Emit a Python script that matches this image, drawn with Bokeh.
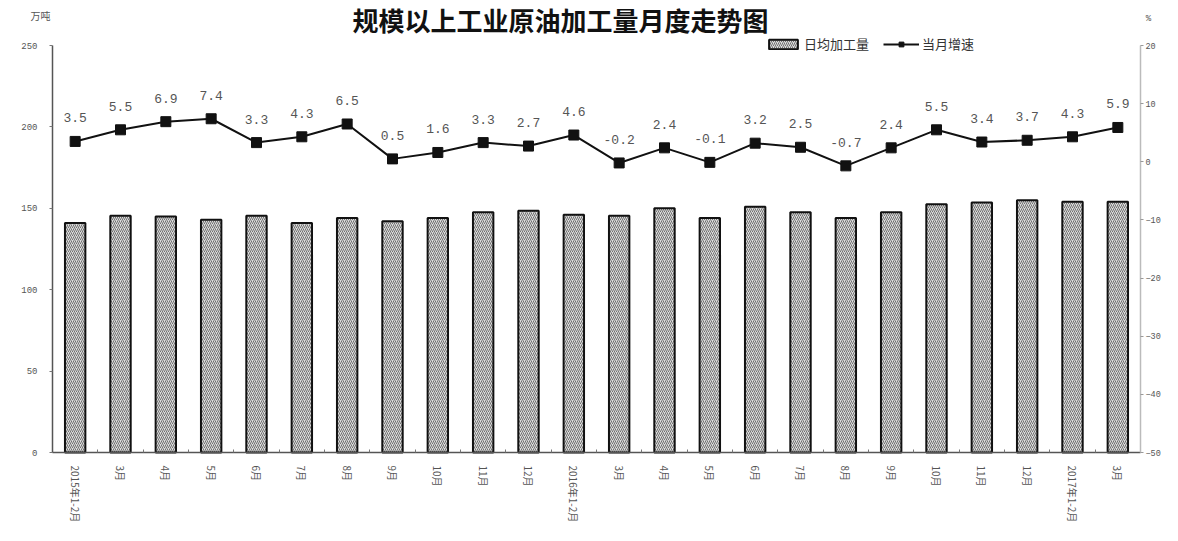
from bokeh.plotting import figure
from bokeh.models import (ColumnDataSource, Range1d, LinearAxis, FixedTicker,
                          Legend, LegendItem, Label)
from bokeh.core.properties import value
from bokeh.embed import file_html
from bokeh.resources import INLINE

months = ["2015年1-2月", "3月", "4月", "5月", "6月", "7月", "8月", "9月", "10月", "11月", "12月",
          "2016年1-2月", "3月", "4月", "5月", "6月", "7月", "8月", "9月", "10月", "11月", "12月",
          "2017年1-2月", "3月"]
daily_output = [141, 145.5, 145, 143, 145.5, 141, 144, 142, 144, 147.5, 148.5,
                146, 145.5, 150, 144, 151, 147.5, 144, 147.5, 152.5, 153.5, 155, 154, 154]
growth = [3.5, 5.5, 6.9, 7.4, 3.3, 4.3, 6.5, 0.5, 1.6, 3.3, 2.7,
          4.6, -0.2, 2.4, -0.1, 3.2, 2.5, -0.7, 2.4, 5.5, 3.4, 3.7, 4.3, 5.9]
left_ticks = [0, 50, 100, 150, 200, 250]
right_ticks = [-50, -40, -30, -20, -10, 0, 10, 20]

W, H = 1162, 525
# plot area (in canvas pixels) where the axes sit
FL, FR, FT, FB = 52, 1140, 45, 452
n = len(months)
xpx = (FR - FL) / n
x0 = -0.5 - FL / xpx
x1 = n - 0.5 + (W - FR) / xpx
lpx = (FB - FT) / 250
ly0 = -(H - FB) / lpx
ly1 = 250 + FT / lpx
rpx = (FB - FT) / 70
ry0 = -50 - (H - FB) / rpx
ry1 = 20 + FT / rpx

xs = list(range(n))
src = ColumnDataSource(dict(x=xs, v=daily_output, g=growth,
                            lab=[f"{g:.1f}" for g in growth]))

p = figure(width=W, height=H, output_backend="svg", toolbar_location=None,
           x_range=Range1d(x0, x1), y_range=Range1d(ly0, ly1),
           x_axis_location=None, y_axis_location=None, min_border=0)
p.outline_line_color = None
p.xgrid.visible = False
p.ygrid.visible = False
p.extra_y_ranges = {"pct": Range1d(ry0, ry1)}

bars = p.vbar(x="x", top="v", width=0.45, source=src, fill_color="#dcdcdc",
              line_color="#111111", line_width=2, hatch_pattern="/", hatch_color="#707070",
              hatch_scale=4, hatch_weight=1)
line = p.line(x="x", y="g", source=src, y_range_name="pct", line_color="#111111", line_width=2)
pts = p.scatter(x="x", y="g", source=src, y_range_name="pct", marker="square", size=10,
                fill_color="#111111", line_color="#111111")
p.text(x="x", y="g", text="lab", source=src, y_range_name="pct", y_offset=-19,
       text_align="center", text_baseline="bottom", text_font=value("Liberation Mono"),
       text_font_size="13px", text_color="#555555")

ax = LinearAxis(fixed_location=0, bounds=(-0.5, n - 0.5),
                ticker=FixedTicker(ticks=xs, minor_ticks=[i - 0.5 for i in range(n + 1)]))
ax.major_label_overrides = {i: m for i, m in enumerate(months)}
ax.major_label_orientation = "vertical"
ax.major_label_text_font = "Noto Sans CJK SC"
ax.major_label_text_font_size = "10px"
ax.major_label_text_color = "#555555"
ax.major_label_standoff = 7
ax.major_tick_line_color = None
ax.minor_tick_out = 0
ax.minor_tick_in = 3
ax.minor_tick_line_color = "#777777"
ax.axis_line_color = "#555555"
ax.axis_line_width = 1.5
p.add_layout(ax, "below")

ly = LinearAxis(fixed_location=-0.5, bounds=(0, 250),
                ticker=FixedTicker(ticks=left_ticks, minor_ticks=[]))
ly.major_label_text_font = "Liberation Mono"
ly.major_label_text_font_size = "9px"
ly.major_label_text_color = "#555555"
ly.axis_line_color = "#555555"
ly.axis_line_width = 1.5
ly.major_tick_in = 0
ly.major_tick_out = 3
ly.major_tick_line_color = "#777777"
ly.minor_tick_line_color = None
ly.major_label_standoff = 12
p.add_layout(ly, "left")

ry = LinearAxis(y_range_name="pct", fixed_location=n - 0.5, bounds=(-50, 20),
                ticker=FixedTicker(ticks=right_ticks, minor_ticks=[]))
ry.major_label_text_font = "Liberation Mono"
ry.major_label_text_font_size = "8.5px"
ry.major_label_text_color = "#555555"
ry.axis_line_color = "#bbbbbb"
ry.axis_line_width = 1.5
ry.major_tick_in = 0
ry.major_tick_out = 3
ry.major_tick_line_color = "#999999"
ry.minor_tick_line_color = None
ry.major_label_standoff = 2
p.add_layout(ry, "right")

legend = Legend(items=[LegendItem(label="日均加工量", renderers=[bars]),
                       LegendItem(label="当月增速", renderers=[line, pts])],
                orientation="horizontal", location=(765, H - 53), padding=0, margin=0,
                spacing=14, glyph_width=36, glyph_height=12, label_standoff=3,
                label_text_font="Noto Sans CJK SC", label_text_font_size="13px",
                label_text_color="#333333", border_line_color=None,
                background_fill_alpha=0)
p.add_layout(legend)

p.add_layout(Label(x=40, y=H - 15, x_units="screen", y_units="screen", text="万吨",
                   text_align="center", text_baseline="middle", text_font="Noto Sans CJK SC",
                   text_font_size="10px", text_color="#555555"))
p.add_layout(Label(x=1148, y=H - 18, x_units="screen", y_units="screen", text="%",
                   text_align="center", text_baseline="middle", text_font="Liberation Mono",
                   text_font_size="9px", text_color="#555555"))
p.add_layout(Label(x=560, y=H, x_units="screen", y_units="screen",
                   text="规模以上工业原油加工量月度走势图", text_align="center",
                   text_baseline="top", text_font="Noto Sans CJK SC", text_font_size="26px",
                   text_font_style="bold", text_color="#111111"))

open("out.html", "w").write(file_html(p, INLINE))
